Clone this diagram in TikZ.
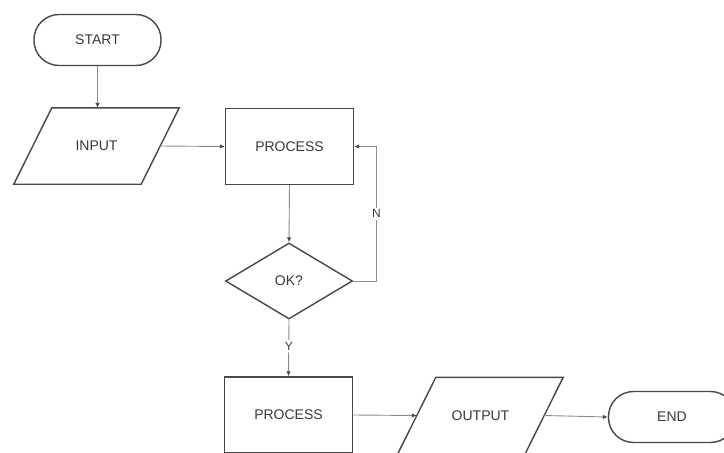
\documentclass[tikz,border=0pt]{standalone}
\usepackage{fontspec}
\setmainfont{Liberation Sans}
\usetikzlibrary{shapes.geometric,arrows.meta}

\definecolor{edgeC}{HTML}{474747}
\definecolor{wireC}{HTML}{8C8C8C}
\definecolor{textC}{HTML}{383838}

\tikzset{
  x=1pt, y=1pt,
  base/.style={draw=edgeC, line width=1.4pt, text=textC, inner sep=0pt,
               font=\fontsize{14}{16}\selectfont},
  terminal/.style={base, rectangle, rounded corners=25pt,
                   minimum width=127pt, minimum height=51pt},
  procbox/.style={base, rectangle, minimum width=128pt, minimum height=76pt},
  % body of a data box; the slanted outline is drawn around it below
  iobox/.style={base, draw=none, rectangle, minimum width=126pt, minimum height=75pt},
  ioedge/.style={draw=edgeC, line width=1.4pt, line join=miter},
  decision/.style={base, diamond, aspect=1.67, minimum width=127pt, minimum height=76pt},
  wire/.style={draw=wireC, line width=0.9pt,
               -{Latex[length=5pt,width=4.5pt,fill=edgeC,color=edgeC]}},
  wirelabel/.style={fill=white, text=textC, inner sep=2pt,
                    font=\fontsize{12}{14}\selectfont}
}

\begin{document}
\begin{tikzpicture}
  \useasboundingbox (0,0) rectangle (724,-453);
  \clip (0,0) rectangle (724,-453);

  % shapes
  \node[terminal] (start) at (97.5,-40) {START};
  \node[iobox]    (input) at (96.5,-146) {INPUT};
  \node[procbox]  (proc1) at (289.5,-146.5) {PROCESS};
  \node[decision] (check) at (289,-281) {OK?};
  \node[procbox]  (proc2) at (288.5,-415) {PROCESS};
  \node[iobox]    (output) at (480.5,-415.5) {OUTPUT};
  \node[terminal] (finish) at (672,-417) {END};

  % slanted outlines of the data boxes
  \foreach \n in {input,output}
    \draw[ioedge] ([xshift=-19pt]\n.south west) -- ([xshift=19pt]\n.north west)
      -- ([xshift=19pt]\n.north east) -- ([xshift=-19pt]\n.south east) -- cycle;

  % turning point of the "N" loop
  \coordinate (loopx) at (376.5,0);

  % connectors
  \draw[wire] (start.south) -- (start.south |- input.north);
  \draw[wire] (input.east) -- (proc1.west);
  \draw[wire] (proc1.south) -- (check.north);
  \draw[wire] (check.east) -- (loopx |- check.east)
      -- node[wirelabel, pos=0.5] {N} (loopx |- proc1.east) -- (proc1.east);
  \draw[wire] (check.south) -- node[wirelabel, pos=0.47] {Y} (proc2.north);
  \draw[wire] (proc2.east) -- (output.west);
  \draw[wire] (output.east) -- (finish.west);
\end{tikzpicture}
\end{document}
